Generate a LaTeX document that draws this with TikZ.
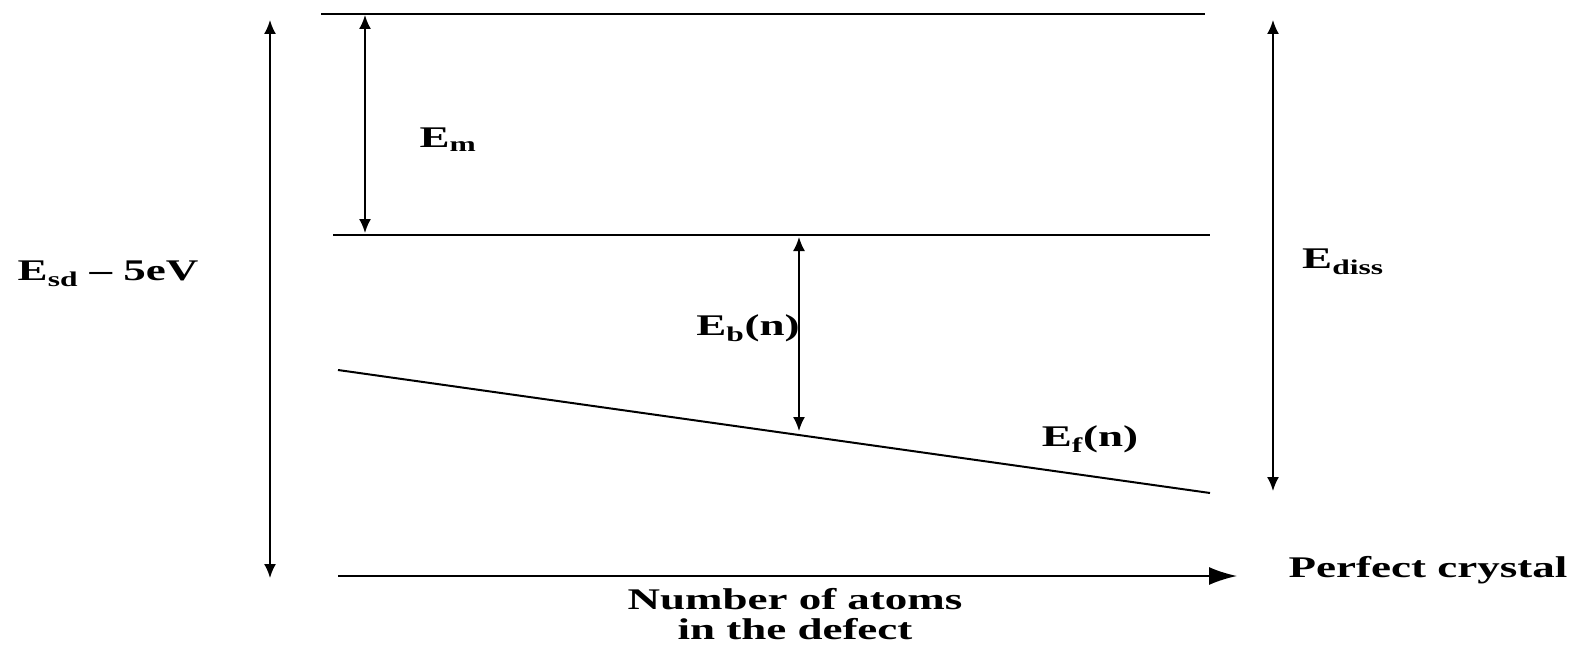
\documentclass[tikz,border=0pt]{standalone}
\usepackage{fontspec}
\setmainfont{Liberation Serif}
\usetikzlibrary{arrows.meta}
\tikzset{
  lvl/.style={line width=2pt},
  dimarrow/.style={line width=1.8pt,{Latex[length=14pt,width=12pt]}-{Latex[length=14pt,width=12pt]}},
  axisarrow/.style={line width=2pt,-{Latex[length=28pt,width=18pt]}},
  lbl/.style={inner sep=0pt,font=\fontsize{30}{32}\selectfont\bfseries}
}
\newcommand{\wide}[1]{\scalebox{1.5}[1]{#1}}
\begin{document}
\begin{tikzpicture}[x=1pt,y=-1pt]
\useasboundingbox (0,0) rectangle (1581,650);
% levels
\coordinate (t1) at (321,14);
\coordinate (t2) at (1205,14);
\coordinate (m1) at (333,235);
\coordinate (m2) at (1210,235);
\coordinate (f1) at (338,370);
\coordinate (f2) at (1210,493);
\draw[lvl] (t1) -- (t2);
\draw[lvl] (m1) -- (m2);
\draw[lvl] (f1) -- (f2);
% arrows
\coordinate (ema) at (365,15);
\coordinate (emb) at (365,233);
\draw[dimarrow] (ema) -- (emb);
\coordinate (eba) at (799,237);
\coordinate (ebb) at (799,431);
\draw[dimarrow] (eba) -- (ebb);
\coordinate (esa) at (270,20);
\coordinate (esb) at (270,578);
\draw[dimarrow] (esa) -- (esb);
\coordinate (eda) at (1273,20);
\coordinate (edb) at (1273,491);
\draw[dimarrow] (eda) -- (edb);
\coordinate (xa) at (338,576);
\coordinate (xb) at (1237,576);
\draw[axisarrow] (xa) -- (xb);
% labels
\node[lbl] (Em) at (448,140) {\wide{E\textsubscript{m}}};
\node[lbl] (Esd) at (108,274) {\wide{E\textsubscript{sd} – 5eV}};
\node[lbl] (Ediss) at (1343,262) {\wide{E\textsubscript{diss}}};
\node[lbl] (Eb) at (748,328) {\wide{E\textsubscript{b}(n)}};
\node[lbl] (Ef) at (1090,439) {\wide{E\textsubscript{f}(n)}};
\node[lbl] (pc) at (1428,570) {\wide{Perfect crystal}};
\node[lbl,align=center] (na) at (795,614) {\wide{Number of atoms}\\[-2pt]\wide{in the defect}};
\end{tikzpicture}
\end{document}
